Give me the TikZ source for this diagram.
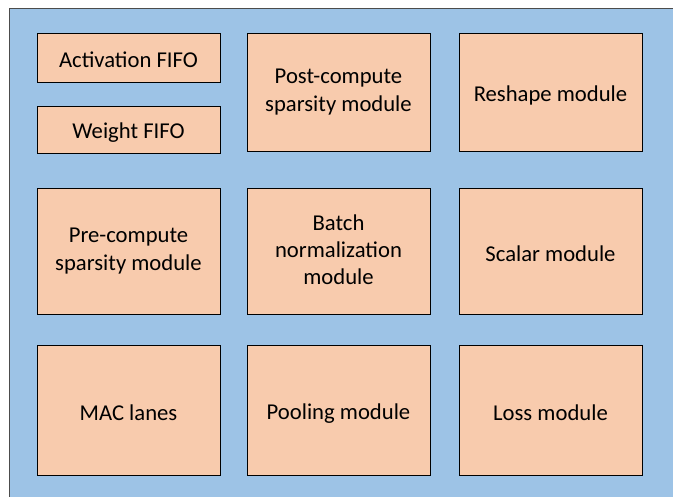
\documentclass[tikz,border=0pt]{standalone}
\usepackage{fontspec}
\setmainfont{Carlito}
\usepackage{xcolor}
\usetikzlibrary{positioning}

\definecolor{panelblue}{RGB}{157,195,230}
\definecolor{unitorange}{RGB}{248,203,173}
\newcommand{\unitstrut}{\rule[-2pt]{0pt}{19pt}}

\begin{document}
\begin{tikzpicture}[x=0.75pt, y=-0.75pt,
    unit/.style={rectangle, draw=black, line width=0.75pt, fill=unitorange, minimum width=137.25pt, align=center, inner sep=2pt, font=\fontsize{17}{20.5}\selectfont,
        execute at begin node=\unitstrut, execute at end node=\unitstrut},
    fifo/.style={unit}]

    \useasboundingbox (0,0) rectangle (673,496);
    \fill[panelblue] (9,8) rectangle (690,510);
    \draw[gray!60!black, line width=0.75pt] (9,510) -- (9,8) -- (690,8);

    % middle row
    \node[unit, minimum height=94.5pt] (pre) at (128.5,251) {Pre-compute\\sparsity module};
    \node[unit, minimum height=94.5pt, right=19.5pt of pre] (bn) {Batch\\normalization\\module};
    \node[unit, minimum height=94.5pt, right=21pt of bn] (scalar) {Scalar module};

    % top row
    \node[unit, minimum height=88.5pt, above=27pt of bn] (post) {Post-compute\\sparsity module};
    \node[unit, minimum height=88.5pt, above=27pt of scalar] (reshape) {Reshape module};
    \node[fifo, minimum height=36.75pt, left=19.5pt of post.north west, anchor=north east] (act) {Activation FIFO};
    \node[fifo, minimum height=35.25pt, below=17.25pt of act] (wgt) {Weight FIFO};

    % bottom row
    \node[unit, minimum height=97.5pt, below=22.5pt of pre] (mac) {MAC lanes};
    \node[unit, minimum height=97.5pt, below=22.5pt of bn] (pool) {Pooling module};
    \node[unit, minimum height=97.5pt, below=22.5pt of scalar] (loss) {Loss module};
\end{tikzpicture}
\end{document}
